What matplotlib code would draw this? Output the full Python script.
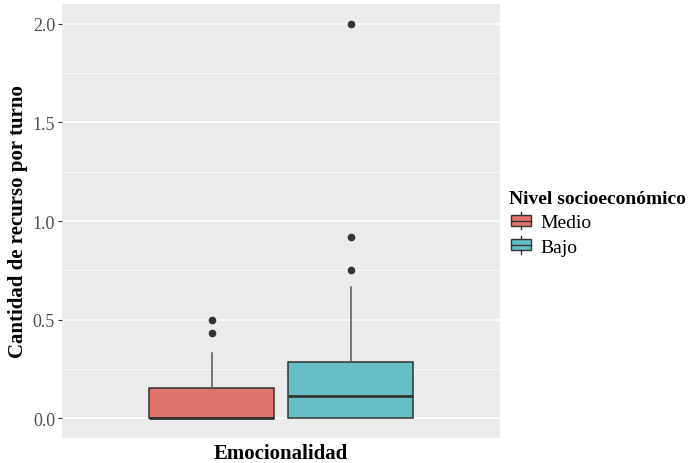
import matplotlib
matplotlib.use("Agg")
import matplotlib.pyplot as plt
from matplotlib.legend_handler import HandlerBase
from matplotlib.patches import Rectangle
from matplotlib.lines import Line2D

# valores
grupos = ["Medio", "Bajo"]
colores = ["#E0736B", "#66BFC5"]
q1 = [0.0, 0.0]
medianas = [0.0, 0.115]
q3 = [0.155, 0.285]
bigote_inf = [0.0, 0.0]
bigote_sup = [0.333, 0.667]
atipicos = [[0.5, 0.43], [0.75, 0.917, 2.0]]

y_ticks = [0.0, 0.5, 1.0, 1.5, 2.0]
y_minor = [0.25, 0.75, 1.25, 1.75]

plt.rcParams["font.family"] = ["Liberation Serif", "DejaVu Serif"]

fig = plt.figure(figsize=(6.89, 4.64), dpi=100, facecolor="white")
ax = fig.add_axes([0.090, 0.054, 0.636, 0.935])
ax.set_facecolor("#EBEBEB")

stats = []
for i in range(len(grupos)):
    stats.append({
        "q1": q1[i], "med": medianas[i], "q3": q3[i],
        "whislo": bigote_inf[i], "whishi": bigote_sup[i],
        "fliers": atipicos[i], "label": grupos[i],
    })

posiciones = [0.775, 1.225]
bp = ax.bxp(
    stats,
    positions=posiciones,
    widths=0.405,
    patch_artist=True,
    showcaps=False,
    boxprops=dict(edgecolor="#333333", linewidth=1.1),
    medianprops=dict(color="#333333", linewidth=2.0),
    whiskerprops=dict(color="#555555", linewidth=1.1),
    flierprops=dict(marker="o", markerfacecolor="#333333",
                    markeredgecolor="#333333", markersize=4.5),
    zorder=3,
)
for patch, col in zip(bp["boxes"], colores):
    patch.set_facecolor(col)

ax.set_xlim(0.29, 1.71)
ax.set_ylim(-0.1, 2.1)
ax.set_xticks([])
ax.set_yticks(y_ticks)
ax.set_yticklabels([f"{v:.1f}" for v in y_ticks])
ax.set_yticks(y_minor, minor=True)
ax.tick_params(axis="y", which="major", length=3, color="#333333",
               labelcolor="#4D4D4D", labelsize=13, pad=2)
ax.tick_params(axis="y", which="minor", length=0)
ax.grid(True, which="major", axis="y", color="white", linewidth=1.1, zorder=0)
ax.grid(True, which="minor", axis="y", color="white", linewidth=0.5, zorder=0)
ax.set_axisbelow(True)
for s in ax.spines.values():
    s.set_visible(False)

ax.set_xlabel("Emocionalidad", fontsize=15, fontweight="bold")
ax.set_ylabel("Cantidad de recurso por turno", fontsize=15, fontweight="bold")
ax.xaxis.set_label_coords(0.5, -0.012)
ax.yaxis.set_label_coords(-0.1, 0.5)
ax.yaxis.label.set_va("center")


class HandlerCaja(HandlerBase):
    def create_artists(self, legend, orig_handle, xdescent, ydescent,
                       width, height, fontsize, trans):
        w = height * 1.15
        x0 = width / 2 - w / 2
        y0 = -ydescent
        caja = Rectangle((x0, y0 + height * 0.18), w, height * 0.64,
                         facecolor=orig_handle.get_facecolor(),
                         edgecolor="#333333", linewidth=1.0, transform=trans)
        med = Line2D([x0, x0 + w], [y0 + height / 2] * 2,
                     color="#333333", linewidth=1.0, transform=trans)
        b1 = Line2D([width / 2] * 2, [y0, y0 + height * 0.18],
                    color="#333333", linewidth=1.0, transform=trans)
        b2 = Line2D([width / 2] * 2, [y0 + height * 0.82, y0 + height],
                    color="#333333", linewidth=1.0, transform=trans)
        return [caja, med, b1, b2]


handles = [Rectangle((0, 0), 1, 1, facecolor=c) for c in colores]
leg = fig.legend(
    handles, grupos,
    handler_map={Rectangle: HandlerCaja()},
    title="Nivel socioeconómico",
    loc="upper left",
    bbox_to_anchor=(0.728, 0.605),
    frameon=False,
    fontsize=14,
    title_fontproperties={"weight": "bold", "size": 14},
    handlelength=1.2,
    handleheight=1.0,
    handletextpad=0.4,
    labelspacing=0.25,
    borderaxespad=0,
)
leg._legend_box.align = "left"

fig.savefig("out.png", dpi=100, facecolor="white")
